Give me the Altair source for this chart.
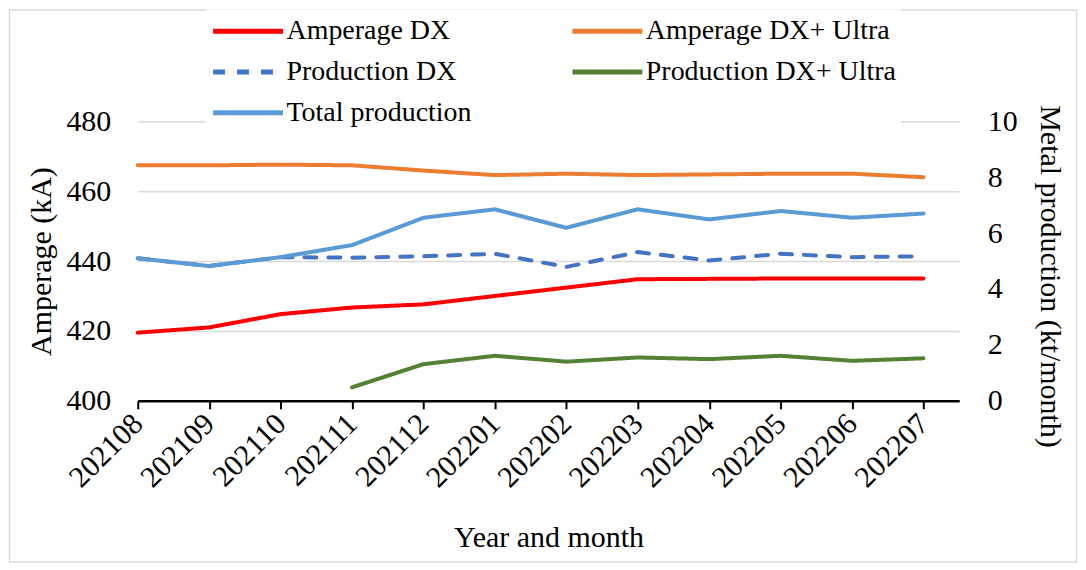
import altair as alt
import pandas as pd

months = ['202108', '202109', '202110', '202111', '202112', '202201',
          '202202', '202203', '202204', '202205', '202206', '202207']

amperage_dx = [419.5, 421.0, 424.8, 426.7, 427.6, 430.0, 432.4, 434.8, 434.9, 435.0, 435.0, 435.0]
amperage_ultra = [467.4, 467.4, 467.6, 467.4, 465.9, 464.6, 465.0, 464.6, 464.8, 465.0, 465.0, 464.0]
production_dx = [5.10, 4.82, 5.14, 5.12, 5.17, 5.26, 4.79, 5.32, 5.02, 5.26, 5.14, 5.17]
production_ultra = [None, None, None, 0.48, 1.31, 1.61, 1.40, 1.55, 1.49, 1.61, 1.43, 1.52]
total_production = [5.10, 4.82, 5.14, 5.57, 6.55, 6.85, 6.19, 6.85, 6.49, 6.79, 6.55, 6.70]

series_names = ['Amperage DX', 'Amperage DX+ Ultra', 'Production DX',
                'Production DX+ Ultra', 'Total production']
series_colors = ['#FF0000', '#ED7D31', '#4472C4', '#548235', '#5B9BD5']
series_dash = [[1, 0], [1, 0], [12, 12], [1, 0], [1, 0]]


def long_rows(named):
    rows = []
    for name, vals in named:
        for i, v in enumerate(vals):
            if v is not None:
                rows.append({'idx': i, 'month': months[i], 'series': name, 'value': v})
    return pd.DataFrame(rows)


left_df = long_rows([('Amperage DX', amperage_dx), ('Amperage DX+ Ultra', amperage_ultra)])
right_df = long_rows([('Production DX', production_dx),
                      ('Production DX+ Ultra', production_ultra),
                      ('Total production', total_production)])

FONT = "'Times New Roman', 'Liberation Serif', serif"
label_expr = '[' + ','.join("'%s'" % m for m in months) + '][datum.value]'

x_enc = alt.X('idx:Q',
              scale=alt.Scale(domain=[0, 11.5], nice=False, zero=False),
              axis=alt.Axis(values=list(range(len(months))), labelExpr=label_expr,
                            labelAngle=-45, labelAlign='right', labelBaseline='middle',
                            labelFontSize=30, labelPadding=10, labelOverlap=False,
                            domainColor='black', domainWidth=2.5,
                            tickColor='black', tickWidth=2, tickSize=8,
                            grid=False, titlePadding=30, titleFontSize=30),
              title='Year and month')

# legend line symbol: 70px long line starting at the entry's left edge
legend = alt.Legend(orient='none', legendX=68, legendY=-112, columns=2,
                    direction='horizontal',
                    columnPadding=90, rowPadding=10, padding=5, fillColor='white',
                    symbolType='M-1,0H4', symbolSize=784, symbolStrokeWidth=5,
                    symbolFillColor='transparent',
                    labelFont=FONT, labelFontSize=28, labelOffset=43, labelLimit=400,
                    labelColor='black')

color_enc = alt.Color('series:N', scale=alt.Scale(domain=series_names, range=series_colors),
                      legend=legend, title=None)
dash_enc = alt.StrokeDash('series:N', scale=alt.Scale(domain=series_names, range=series_dash),
                          legend=legend, title=None)

left = alt.Chart(left_df).mark_line(strokeWidth=4, strokeCap='round').encode(
    x=x_enc,
    y=alt.Y('value:Q',
            scale=alt.Scale(domain=[400, 480], nice=False, zero=False),
            axis=alt.Axis(values=[400, 420, 440, 460, 480], grid=True,
                          gridColor='#D9D9D9', gridWidth=1.5, domain=False, ticks=False,
                          labelFontSize=30, labelPadding=27, titlePadding=9,
                          titleFontSize=30),
            title='Amperage (kA)'),
    color=color_enc,
    strokeDash=dash_enc,
)

right = alt.Chart(right_df).mark_line(strokeWidth=4, strokeCap='round').encode(
    x=x_enc,
    y=alt.Y('value:Q',
            scale=alt.Scale(domain=[0, 10], nice=False),
            axis=alt.Axis(orient='right', values=[0, 2, 4, 6, 8, 10], grid=False,
                          domain=False, ticks=False, labelFontSize=30, labelPadding=28,
                          titlePadding=17, titleFontSize=30, titleY=155),
            title='Metal production (kt/month)'),
    color=color_enc,
    strokeDash=dash_enc,
)

frame = alt.Chart(alt.Data(values=[{}])).mark_rect(
    filled=False, stroke='#D9D9D9', strokeWidth=1.3
).encode(
    x=alt.value(-128.5), x2=alt.value(940.5),
    y=alt.value(-111.5), y2=alt.value(441.5)
)

chart = alt.layer(left, right, frame).resolve_scale(y='independent').properties(
    width=823, height=280, padding=0, background='white'
).configure(font=FONT).configure_axis(
    labelFont=FONT, titleFont=FONT, labelColor='black', titleColor='black',
    titleFontWeight='normal'
).configure_legend(labelFont=FONT).configure_view(strokeWidth=0)

chart.save('out.html', embed_options={'renderer': 'svg', 'actions': False})
